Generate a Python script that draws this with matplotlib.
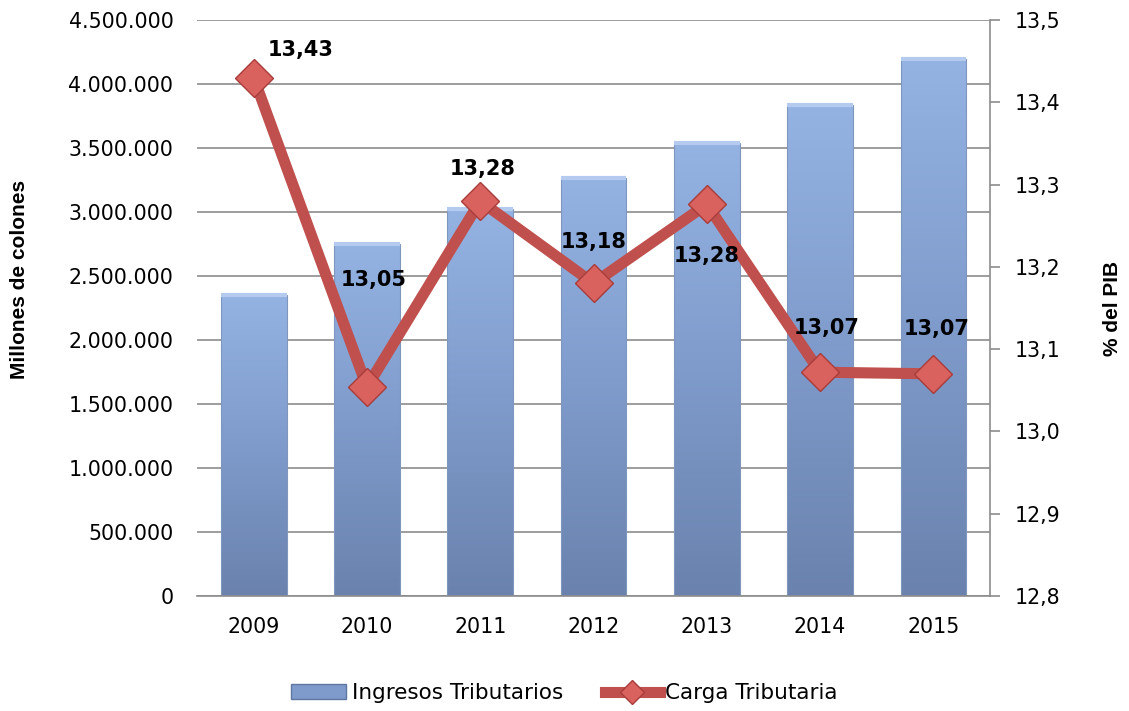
import numpy as np
import matplotlib
matplotlib.use("Agg")
import matplotlib.pyplot as plt
from matplotlib.colors import LinearSegmentedColormap
from matplotlib.lines import Line2D
from matplotlib.patches import Patch

years = ['2009', '2010', '2011', '2012', '2013', '2014', '2015']
ingresos = [2352000, 2750000, 3025000, 3268000, 3538000, 3835000, 4195000]
carga = [13.43, 13.054, 13.28, 13.18, 13.276, 13.072, 13.07]
carga_labels = ['13,43', '13,05', '13,28', '13,18', '13,28', '13,07', '13,07']
left_ticks = [0, 500000, 1000000, 1500000, 2000000, 2500000, 3000000, 3500000, 4000000, 4500000]
right_ticks = [12.8, 12.9, 13.0, 13.1, 13.2, 13.3, 13.4, 13.5]

plt.rcParams['font.family'] = ['DejaVu Sans']

fig = plt.figure(figsize=(11.29, 7.11), dpi=100)
ax = fig.add_axes([0.1745, 0.1617, 0.7024, 0.8102])
x = np.arange(len(years))

# bars with a vertical gradient
bars = ax.bar(x, ingresos, width=0.58, color='none', edgecolor='#7f96bf', linewidth=0.8, zorder=2)
cmap = LinearSegmentedColormap.from_list('blu', ['#6a82ad', '#7f9bcb', '#94b3e2'])
grad = np.linspace(0, 1, 256).reshape(-1, 1)
for b in bars:
    x0, w, h = b.get_x(), b.get_width(), b.get_height()
    im = ax.imshow(grad, extent=[x0, x0 + w, 0, h], origin='lower', cmap=cmap,
                   aspect='auto', zorder=1.5)
    im.set_clip_path(b)
    # light top bevel
    ax.plot([x0, x0 + w], [h, h], color='#b4cbef', lw=3, zorder=2.1, solid_capstyle='butt')

ax.set_xlim(-0.5, len(years) - 0.5)
ax.set_ylim(0, 4500000)
ax.set_yticks(left_ticks)
ax.set_yticklabels([f'{v:,}'.replace(',', '.') for v in left_ticks], fontsize=14.8)
ax.set_xticks(x)
ax.set_xticklabels(years, fontsize=14.8)
ax.tick_params(axis='x', length=0, pad=15)
ax.tick_params(axis='y', length=0, pad=17)
ax.grid(axis='y', color='#8c8c8c', lw=1.2, zorder=0)
ax.set_axisbelow(True)
for s in ['top', 'left', 'right']:
    ax.spines[s].set_visible(False)
ax.spines['bottom'].set_color('#8c8c8c')
ax.spines['bottom'].set_linewidth(1.2)
ax.set_ylabel('Millones de colones', fontsize=15, fontweight='bold', family='Liberation Sans')
ax.yaxis.set_label_coords(-0.212, 0.55)

ax2 = ax.twinx()
ax2.set_ylim(12.8, 13.5)
ax2.set_yticks(right_ticks)
ax2.set_yticklabels([f'{v:.1f}'.replace('.', ',') for v in right_ticks], fontsize=14.8)
ax2.tick_params(axis='y', length=7, width=1.2, color='#8c8c8c', pad=11)
for s in ['top', 'left', 'bottom']:
    ax2.spines[s].set_visible(False)
ax2.spines['right'].set_color('#8c8c8c')
ax2.spines['right'].set_linewidth(1.2)
ax2.set_ylabel('% del PIB', fontsize=15, fontweight='bold', family='Liberation Sans',
               rotation=90)
ax2.yaxis.set_label_coords(1.142, 0.5)

ax2.plot(x, carga, color='#c0504d', lw=8, zorder=3, solid_joinstyle='miter')
ax2.plot(x, carga, ls='none', marker='D', markersize=19, markerfacecolor='#d9615e',
         markeredgecolor='#a83c3a', markeredgewidth=1, zorder=4)

offsets = [(34, 20), (5, 77), (2, 23), (0, 30), (0, -37), (5, 32), (2, 32)]
for xi, yi, lab, off in zip(x, carga, carga_labels, offsets):
    ax2.annotate(lab, (xi, yi), xytext=off, textcoords='offset points',
                 ha='center', va='center', fontsize=15, fontweight='bold', zorder=5)

handles = [Patch(facecolor='#7f9bcb', edgecolor='#5f76a0'),
           Line2D([0], [0], color='#c0504d', lw=8, marker='D', markersize=12,
                  markerfacecolor='#d9615e', markeredgecolor='#a83c3a')]
fig.legend(handles, ['Ingresos Tributarios', 'Carga Tributaria'], loc='center',
           bbox_to_anchor=(0.5, 0.025), ncol=2, frameon=False, fontsize=15.5,
           handlelength=2.55, handletextpad=0.25, columnspacing=1.95)

fig.savefig('out.png', dpi=100)
